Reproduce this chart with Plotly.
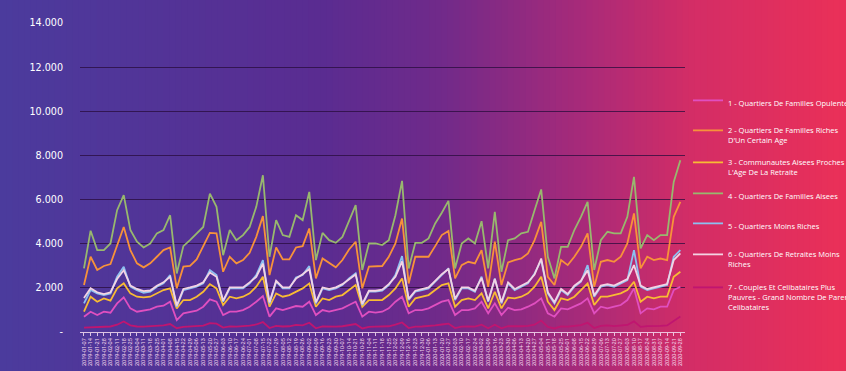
import plotly.graph_objects as go
import pandas as pd

# Weekly reporting dates (category labels on the x axis)
dates = pd.date_range("2019-01-07", periods=91, freq="7D").strftime("%Y-%m-%d").tolist()

# Y axis ticks
y_tickvals = [0, 2000, 4000, 6000, 8000, 10000, 12000, 14000]
y_ticktext = ["-", "2.000", "4.000", "6.000", "8.000", "10.000", "12.000", "14.000"]

names = [
    "1 - Quartiers De Familles Opulentes",
    "2 - Quartiers De Familles Riches<br>D'Un Certain Age",
    "3 - Communautes Aisees Proches De<br>L'Age De La Retraite",
    "4 - Quartiers De Familles Aisees",
    "5 - Quartiers Moins Riches",
    "6 - Quartiers De Retraites Moins<br>Riches",
    "7 - Couples Et Celibataires Plus<br>Pauvres - Grand Nombre De Parents<br>Celibataires",
]

s1 = [694, 920, 769, 920, 875, 1297, 1569, 1071, 920, 965, 1026, 1146, 1192, 1373, 543, 845, 920, 965,
      1146, 1478, 1373, 769, 920, 920, 995, 1146, 1373, 1629, 694, 1071, 995, 1071, 1177,
      1146, 1373, 769, 995, 920, 995, 1071, 1222, 1373, 694, 920, 875, 920, 1071, 1373, 1599, 845,
      995, 995, 1071, 1222, 1373, 1448, 769, 995, 995, 1071, 1373, 845, 1297, 769, 1100,
      995, 1026, 1146, 1297, 1523, 845, 694, 1071, 1026, 1146, 1297, 1523, 845, 1146, 1071, 1146,
      1222, 1448, 1976, 845, 1071, 1026, 1146, 1146, 1900, 2051]

s2 = [2130, 3410, 2810, 2990, 3080, 3940, 4760, 3710, 3110, 2930,
      3110, 3410, 3710, 3830, 1980, 2960, 2990, 3290, 3860, 4490,
      4470, 2730, 3410, 3110, 3260, 3590, 4310, 5250, 2580, 3830,
      3290, 3290, 3830, 3890, 4690, 2430, 3330, 3110, 2930, 3260,
      3740, 4090, 1980, 2960, 2960, 2990, 3410, 4010, 5140, 2200,
      3410, 3410, 3410, 3890, 4390, 4580, 2430, 3030, 3180, 3110,
      3710, 2050, 4090, 2130, 3150, 3260, 3330, 3560, 4160, 4990,
      2500, 2130, 3260, 3030, 3410, 3860, 4470, 2050, 3180, 3260,
      3180, 3410, 4010, 5370, 2880, 3410, 3260, 3330, 3260, 5220,
      5900]

s3 = [920, 1599, 1373, 1523, 1418, 1976, 2202, 1750, 1599, 1569, 1599, 1750, 1900, 1976, 1071, 1448,
      1448, 1599, 1825, 2172, 1976, 1222, 1599, 1523, 1599, 1750, 2051, 2504, 1146, 1750, 1599, 1674, 1825,
      1976, 2202, 1146, 1523, 1448, 1599, 1674, 1900, 2127, 1146, 1448, 1448, 1448, 1674, 1976, 2428,
      1146, 1523, 1599, 1674, 1900, 2127, 2202, 1146, 1448, 1523, 1448, 1750, 1071, 1825, 1071, 1560,
      1523, 1599, 1750, 2051, 2504, 1373, 995, 1523, 1448, 1599, 1900, 2202, 1222, 1599, 1599, 1674,
      1750, 1900, 2278, 1373, 1599, 1523, 1599, 1599, 2504, 2730]

s4 = [2880, 4590, 3710, 3710, 4010, 5520, 6200, 4620, 4090, 3830,
      4010, 4470, 4620, 5290, 2650, 3890, 4160, 4470, 4760, 6270,
      5670, 3480, 4620, 4160, 4390, 4760, 5670, 7100, 3410, 5070,
      4390, 4310, 5290, 5070, 6350, 3260, 4490, 4160, 4040, 4310,
      4990, 5750, 2810, 4010, 4010, 3940, 4160, 5290, 6850, 2880,
      4040, 4040, 4240, 4920, 5400, 5940, 2880, 4010, 4240, 4010,
      5020, 2880, 5440, 2730, 4160, 4240, 4470, 4540, 5520, 6460,
      3410, 2430, 3860, 3860, 4620, 5220, 5900, 2810, 4160, 4540,
      4470, 4470, 5220, 7030, 3790, 4390, 4160, 4390, 4390, 6800,
      7780]

s5 = [1297, 1900, 1750, 1674, 1750, 2504, 2956, 2051, 1900, 1780, 1825, 2051, 2202, 2579, 1146, 1900,
      1976, 2051, 2202, 2805, 2579, 1373, 1976, 1976, 1976, 2202, 2579, 3258, 1297, 2278, 1976, 1976, 2474,
      2579, 2986, 1297, 1976, 1900, 1976, 2127, 2428, 2655, 1222, 1825, 1825, 1870, 2127, 2579, 3439,
      1448, 1825, 1900, 1976, 2278, 2579, 2881, 1448, 1976, 1976, 1825, 2504, 1373, 2428, 1297, 2200,
      1900, 2051, 2202, 2655, 3258, 1750, 1297, 1900, 1674, 2051, 2278, 3032, 1599, 2051, 2127, 2051,
      2202, 2353, 3710, 2051, 1900, 1976, 2051, 2127, 3409, 3710]

s6 = [1540, 1980, 1800, 1720, 1800, 2400, 2800, 2100, 1950, 1850,
      1880, 2100, 2250, 2500, 1200, 1950, 2020, 2100, 2250, 2700,
      2500, 1420, 2020, 2020, 2020, 2250, 2500, 3100, 1350, 2320,
      2020, 2020, 2420, 2620, 2850, 1350, 2020, 1950, 2020, 2170,
      2400, 2600, 1270, 1870, 1870, 1920, 2170, 2500, 3200, 1500,
      1870, 1950, 2020, 2320, 2620, 2850, 1500, 2020, 2020, 1870,
      2450, 1420, 2400, 1350, 2250, 1950, 2100, 2250, 2600, 3330,
      1800, 1350, 1950, 1720, 2100, 2320, 2800, 1650, 2100, 2170,
      2100, 2250, 2400, 3030, 2100, 1950, 2020, 2100, 2170, 3260,
      3560]

s7 = [200, 220, 210, 230, 250, 330, 480, 300, 250, 240,
      260, 280, 300, 360, 170, 230, 240, 260, 290, 400,
      380, 200, 250, 240, 260, 290, 340, 450, 180, 280,
      250, 260, 320, 300, 420, 170, 250, 240, 240, 260,
      300, 360, 160, 230, 240, 240, 260, 330, 430, 180,
      240, 250, 260, 300, 340, 380, 180, 240, 250, 240,
      330, 170, 330, 170, 260, 250, 260, 280, 330, 520,
      230, 160, 250, 240, 270, 310, 420, 180, 280, 300,
      270, 290, 320, 480, 230, 270, 260, 280, 300, 520,
      700]

series = [s1, s2, s3, s4, s5, s6, s7]
colors = ["#e04fc0", "#f7923a", "#f8bb34", "#98b86e", "#8cc0f0", "#f3d3e3", "#c01570"]

W, H = 846, 371
ML, MR, MT, MB = 80, 161, 23, 39
PW, PH = W - ML - MR, H - MT - MB

# vertical pixel position of each legend entry (top of the entry)
legend_top_px = [89, 119, 151, 182, 212, 243, 276]

fig = go.Figure()
legends = {}
for i, (name, vals, col) in enumerate(zip(names, series, colors)):
    key = "legend" if i == 0 else "legend%d" % (i + 1)
    fig.add_trace(go.Scatter(
        x=dates, y=vals, name=name, mode="lines",
        line=dict(color=col, width=1.8),
        legend=key,
    ))
    legends[key] = dict(
        x=(688 - ML) / PW, xanchor="left",
        y=(H - MB - legend_top_px[i]) / PH, yanchor="top",
        font=dict(family="Open Sans", size=7.5, color="white"),
        bgcolor="rgba(0,0,0,0)", valign="top", itemwidth=30,
    )

# Horizontal background gradient, purple on the left to pink-red on the right
stops = [(0.0, (75, 59, 157)), (0.38, (90, 44, 145)), (0.52, (112, 42, 138)),
         (0.68, (165, 42, 122)), (0.82, (212, 45, 102)), (1.0, (234, 48, 88))]


def grad(t):
    for (t0, c0), (t1, c1) in zip(stops[:-1], stops[1:]):
        if t <= t1:
            f = (t - t0) / (t1 - t0) if t1 > t0 else 0
            return "rgb(%d,%d,%d)" % tuple(round(a + (b - a) * f) for a, b in zip(c0, c1))
    return "rgb(%d,%d,%d)" % stops[-1][1]


shapes = []
N = 140
for k in range(N):
    x0 = k / N * W
    x1 = (k + 1) / N * W + 1
    shapes.append(dict(
        type="rect", xref="paper", yref="paper", layer="below",
        x0=(x0 - ML) / PW, x1=(x1 - ML) / PW,
        y0=-MB / PH - 0.01, y1=(H - MB) / PH + 0.01,
        fillcolor=grad((k + 0.5) / N), line=dict(width=0),
    ))

fig.update_layout(
    width=W, height=H,
    margin=dict(l=ML, r=MR, t=MT, b=MB, autoexpand=False),
    paper_bgcolor="rgb(75,59,157)",
    plot_bgcolor="rgba(0,0,0,0)",
    shapes=shapes,
    showlegend=True,
    xaxis=dict(
        type="category", range=[-0.6, 90.7],
        tickmode="array", tickvals=dates, ticktext=dates,
        tickangle=-90, tickfont=dict(family="Roboto", size=5.5, color="#f4d8ec"),
        showgrid=False, showline=True, linecolor="rgba(245,220,240,0.85)", linewidth=1,
        ticks="outside", ticklen=3, tickcolor="rgba(245,220,240,0.85)",
        zeroline=False, automargin=False,
    ),
    yaxis=dict(
        range=[0, 14000], tickmode="array", tickvals=y_tickvals, ticktext=y_ticktext,
        tickfont=dict(family="DejaVu Sans", size=9.6, color="white"),
        showgrid=True, gridcolor="rgba(40,12,60,0.75)", gridwidth=1,
        zeroline=False, showline=False, ticklabelstandoff=16, automargin=False,
    ),
    **legends,
)

fig.write_html("out.html")
